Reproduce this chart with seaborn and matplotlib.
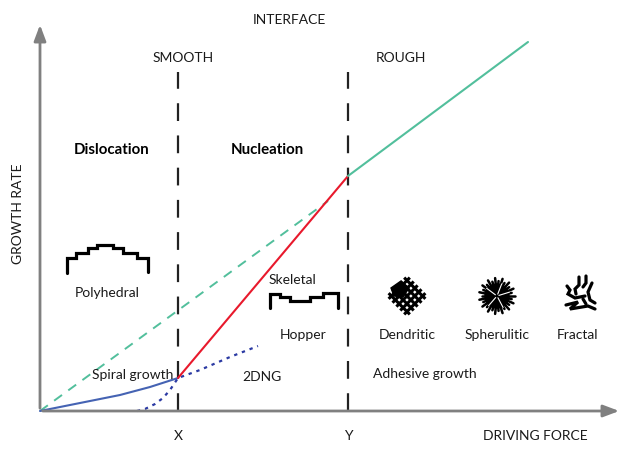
import numpy as np
import matplotlib
matplotlib.use("Agg")
import matplotlib.pyplot as plt
import seaborn as sns
import pandas as pd

# driving force (x) / growth rate (y), 1 unit ~ 1 px, origin at the axis corner
x_pos = 138
y_pos = 308

spiral_f = [0, 40, 80, 110, 138]
spiral_r = [0, 8, 16, 24, 33]

dng_f = [97, 105, 115, 123, 130, 138, 160, 190, 218]
dng_r = [0, 2, 7, 13, 21, 33, 41, 54, 65]

nucl_f = [138, 308]
nucl_r = [33, 235]

rough_f = [308, 488]
rough_r = [235, 369]

rough_ext_f = [0, 288]
rough_ext_r = [0, 210]

sns.set_theme(style="white")
plt.rcParams['font.family'] = ['Lato', 'DejaVu Sans']

fig = plt.figure(figsize=(6.36, 4.53), dpi=100)
ax = fig.add_axes([0, 0, 1, 1])
ax.set_xlim(-40, 596)
ax.set_ylim(-42, 411)
ax.axis("off")

green = "#52bf9c"
red = "#e8192c"
blue = "#4563b3"
dblue = "#2b3aa3"

# axes arrows
ax.annotate("", xy=(0, 389), xytext=(0, 0),
            arrowprops=dict(arrowstyle="-|>,head_length=0.8,head_width=0.3", color="#808080", lw=2))
ax.annotate("", xy=(582, 0), xytext=(0, 0),
            arrowprops=dict(arrowstyle="-|>,head_length=0.8,head_width=0.3", color="#808080", lw=2))

# boundaries
for xv in (x_pos, y_pos):
    ax.plot([xv, xv], [0, 339], color="#222222", lw=1.6, dashes=(8, 6.5))

lines = pd.DataFrame({"f": rough_ext_f, "r": rough_ext_r})
sns.lineplot(data=lines, x="f", y="r", ax=ax, color=green, lw=1.4, estimator=None)
ax.lines[-1].set_dashes((5, 4))
sns.lineplot(x=spiral_f, y=spiral_r, ax=ax, color=blue, lw=1.5, estimator=None)
sns.lineplot(x=dng_f, y=dng_r, ax=ax, color=dblue, lw=1.6, estimator=None)
ax.lines[-1].set_dashes((1.5, 2.2))
sns.lineplot(x=nucl_f, y=nucl_r, ax=ax, color=red, lw=1.5, estimator=None)
sns.lineplot(x=rough_f, y=rough_r, ax=ax, color=green, lw=1.5, estimator=None)

fs = 10
tc = "#1a1a1a"
ax.text(249, 391, "INTERFACE", ha="center", va="center", fontsize=fs, color=tc)
ax.text(143, 353, "SMOOTH", ha="center", va="center", fontsize=fs, color=tc)
ax.text(361, 353, "ROUGH", ha="center", va="center", fontsize=fs, color=tc)
ax.text(72, 261, "Dislocation", ha="center", va="center", fontsize=10.8, weight="bold", color="black")
ax.text(227, 261, "Nucleation", ha="center", va="center", fontsize=10.8, weight="bold", color="black")
ax.text(-22, 197, "GROWTH RATE", ha="center", va="center", fontsize=fs, rotation=90, color=tc)
ax.text(138, -25, "X", ha="center", va="center", fontsize=fs, color=tc)
ax.text(308, -25, "Y", ha="center", va="center", fontsize=fs, color=tc)
ax.text(495, -25, "DRIVING FORCE", ha="center", va="center", fontsize=fs, color=tc)

for lab, xx, yy in [("Polyhedral", 67, 118), ("Skeletal", 252, 131), ("Hopper", 263, 76),
                    ("Dendritic", 367, 76), ("Spherulitic", 457, 76), ("Fractal", 538, 76),
                    ("Spiral growth", 93, 36), ("2DNG", 222, 34), ("Adhesive growth", 385, 37)]:
    ax.text(xx, yy, lab, ha="center", va="center", fontsize=fs, color=tc)

# polyhedral icon
poly_x = [27, 27, 36, 36, 48, 48, 57, 57, 73, 73, 83, 83, 97, 97, 108, 108]
poly_y = [138, 153, 153, 158, 158, 163, 163, 166, 166, 163, 163, 158, 158, 153, 153, 139]
ax.plot(poly_x, poly_y, color="black", lw=2.3, solid_joinstyle="miter")

# skeletal / hopper icon
sk_x = [230, 230, 240, 240, 250, 250, 270, 270, 283, 283, 298, 298]
sk_y = [103, 117, 117, 114, 114, 110, 110, 114, 114, 118, 118, 103]
ax.plot(sk_x, sk_y, color="black", lw=2.3, solid_joinstyle="miter")

# dendritic icon
cx, cy = 367, 115
u = np.array([1, 1]) / np.sqrt(2)
v = np.array([-1, 1]) / np.sqrt(2)
for d in (-11, -5.5, 0, 5.5, 11):
    L = 15
    for a, b in ((u, v), (v, u)):
        p0 = np.array([cx, cy]) + d * b - L * a
        p1 = np.array([cx, cy]) + d * b + L * a
        ax.plot([p0[0], p1[0]], [p0[1], p1[1]], color="black", lw=2.2, solid_capstyle="butt")
ax.fill([cx - 16, cx - 6, cx + 2, cx - 4, cx - 13], [cy + 8, cy + 15, cy + 8, cy - 1, cy + 0],
        color="black")

# spherulitic icon
cx, cy = 457, 115
ang = np.linspace(0, 2 * np.pi, 30, endpoint=False)
ax.add_patch(plt.Circle((cx, cy), 12, color="black"))
for k, a in enumerate(ang):
    r = 18 if k % 2 == 0 else 15
    ax.plot([cx, cx + r * np.cos(a)], [cy, cy + r * np.sin(a)], color="black", lw=1.8)
for a in (0.3, 1.2, 2.5, 4.0, 5.2):
    ax.plot([cx + 2 * np.cos(a), cx + 13 * np.cos(a)], [cy + 2 * np.sin(a), cy + 13 * np.sin(a)],
            color="white", lw=0.8)

# fractal icon
strokes = [
    [(539, 134), (539, 126), (535, 122), (536, 117)],
    [(546, 135), (546, 128), (543, 124)],
    [(527, 125), (530, 121), (528, 117), (535, 113), (545, 115)],
    [(552, 128), (548, 119), (550, 111), (555, 108)],
    [(526, 106), (538, 109), (530, 102), (548, 105), (555, 102)],
    [(543, 112), (546, 107)],
]
for s in strokes:
    xs, ys = zip(*s)
    ax.plot(xs, ys, color="black", lw=2.3, solid_joinstyle="miter")

fig.savefig("out.png", dpi=100)
